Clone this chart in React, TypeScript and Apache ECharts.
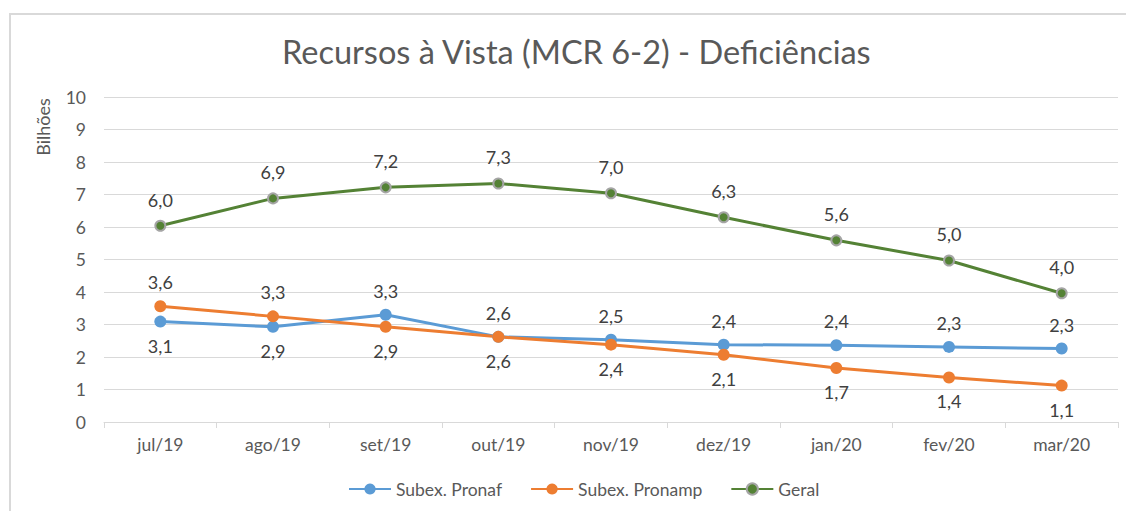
import React, { useEffect, useRef } from "react";
import * as echarts from "echarts";

const categories = ["jul/19", "ago/19", "set/19", "out/19", "nov/19", "dez/19", "jan/20", "fev/20", "mar/20"];
const pronaf = [3.09, 2.93, 3.3, 2.62, 2.53, 2.38, 2.36, 2.31, 2.26];
const pronamp = [3.56, 3.25, 2.93, 2.62, 2.38, 2.07, 1.66, 1.37, 1.12];
const geral = [6.04, 6.88, 7.22, 7.34, 7.04, 6.3, 5.59, 4.97, 3.96];
const pronafLabelPos = ["bottom", "bottom", "top", "top", "top", "top", "top", "top", "top"];
const pronampLabelPos = ["top", "top", "bottom", "bottom", "bottom", "bottom", "bottom", "bottom", "bottom"];
const yTicks = [0, 10, 1];

const FONT = "Lato, Carlito, 'Noto Sans', sans-serif";
const fmt = (v: number) => v.toFixed(1).replace(".", ",");

export default function App() {
  const ref = useRef<HTMLDivElement>(null);
  useEffect(() => {
    const chart = echarts.init(ref.current!, undefined, { renderer: "svg" });
    const labelStyle = { show: true, fontSize: 18, color: "#404040", fontFamily: FONT, distance: 9, formatter: (p: any) => fmt(p.value) };
    chart.setOption({
      animation: false,
      backgroundColor: "#ffffff",
      textStyle: { fontFamily: FONT },
      title: {
        text: "Recursos à Vista (MCR 6-2) - Deficiências",
        left: 277,
        top: 30,
        textStyle: { fontSize: 32.5, fontWeight: "normal", color: "#595959", fontFamily: FONT },
      },
      graphic: [
        { type: "rect", shape: { x: 10, y: 14, width: 1300, height: 700 }, style: { fill: "none", stroke: "#d9d9d9", lineWidth: 2 }, silent: true },
        { type: "text", x: 43, y: 127, rotation: Math.PI / 2, style: { text: "Bilhões", fontSize: 18, fill: "#595959", fontFamily: FONT, align: "center", verticalAlign: "middle" } },
      ],
      legend: {
        bottom: 8,
        left: 343,
        itemWidth: 42,
        itemHeight: 14,
        itemGap: 28,
        textStyle: { fontSize: 17.5, color: "#595959", fontFamily: FONT },
        data: ["Subex. Pronaf", "Subex. Pronamp", "Geral"],
      },
      grid: { left: 104, right: 8, top: 97, bottom: 89 },
      xAxis: {
        type: "category",
        data: categories,
        boundaryGap: true,
        axisLine: { lineStyle: { color: "#d9d9d9", width: 1 } },
        axisTick: { show: true, length: 6, lineStyle: { color: "#d9d9d9" } },
        axisLabel: { fontSize: 17.5, color: "#595959", margin: 13, fontFamily: FONT },
      },
      yAxis: {
        type: "value",
        min: yTicks[0],
        max: yTicks[1],
        interval: yTicks[2],
        axisLine: { show: false },
        axisTick: { show: false },
        splitLine: { lineStyle: { color: "#d9d9d9", width: 1 } },
        axisLabel: { fontSize: 17.5, color: "#595959", margin: 18, fontFamily: FONT },
      },
      series: [
        {
          name: "Subex. Pronaf",
          type: "line",
          data: pronaf.map((v, i) => ({ value: v, label: { position: pronafLabelPos[i] } })),
          symbol: "circle",
          symbolSize: 12,
          lineStyle: { color: "#5b9bd5", width: 3 },
          itemStyle: { color: "#5b9bd5" },
          label: labelStyle,
        },
        {
          name: "Subex. Pronamp",
          type: "line",
          data: pronamp.map((v, i) => ({ value: v, label: { position: pronampLabelPos[i] } })),
          symbol: "circle",
          symbolSize: 12,
          lineStyle: { color: "#ed7d31", width: 3 },
          itemStyle: { color: "#ed7d31" },
          label: labelStyle,
        },
        {
          name: "Geral",
          type: "line",
          data: geral,
          symbol: "circle",
          symbolSize: 10,
          lineStyle: { color: "#548235", width: 3 },
          itemStyle: { color: "#548235", borderColor: "#a5a5a5", borderWidth: 2 },
          label: { ...labelStyle, position: "top", distance: 11 },
        },
      ],
    });
    return () => chart.dispose();
  }, []);
  return <div ref={ref} style={{ position: "absolute", left: 0, top: 0, width: 1126, height: 511 }} />;
}
